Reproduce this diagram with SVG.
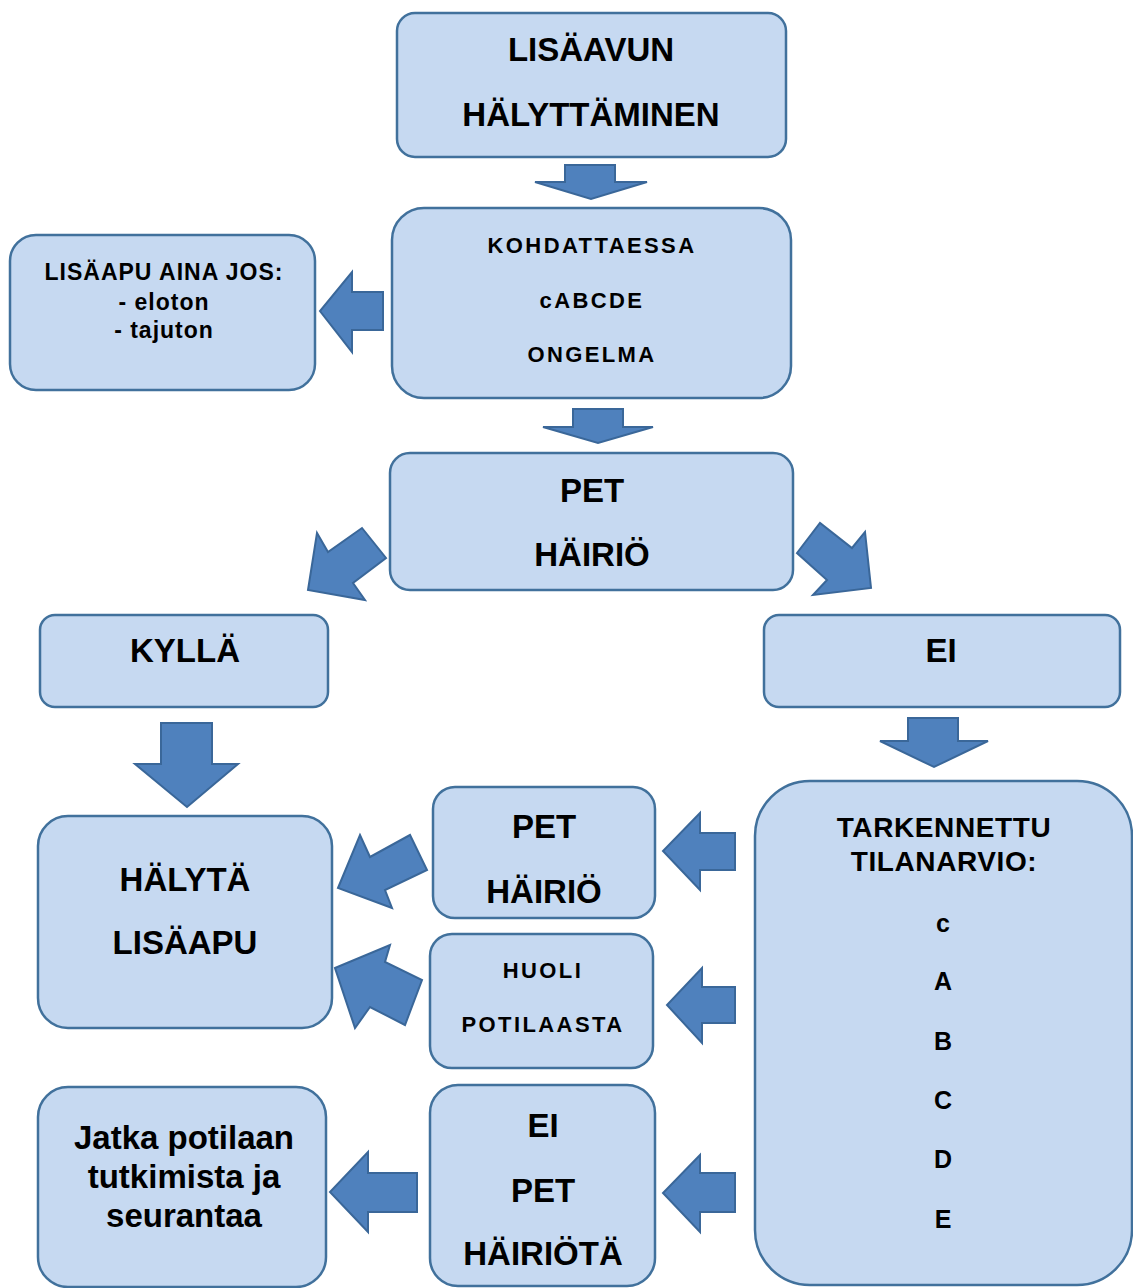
<svg xmlns="http://www.w3.org/2000/svg" width="1133" height="1288" viewBox="0 0 1133 1288">
<style>
.box{fill:#c6d9f1;stroke:#41719c;stroke-width:2.5}
.arr{fill:#4f81bd;stroke:#3a6799;stroke-width:2;stroke-linejoin:miter}
text{font-family:"Liberation Sans",Arial,sans-serif;font-weight:bold;fill:#000;text-anchor:middle}
.big{font-size:33px}
.mid{font-size:22px;letter-spacing:2.4px}
.sm{font-size:23px;letter-spacing:1px}
.tk{font-size:28px;letter-spacing:0.6px}
.lt{font-size:25px}
.jt{font-size:33px}
</style>
<rect width="1133" height="1288" fill="#ffffff"/>
<g id="connectors">
<polygon class="arr" points="565,165 615,165 615,182 647,182 591,199 535,182 565,182"/>
<polygon class="arr" points="383,292 383,330 352,330 352,352 320,311 352,272 352,292"/>
<polygon class="arr" points="573,409 623,409 623,427 653,427 598,443 543,427 573,427"/>
<polygon class="arr" points="362,528 386,558 353,583 365,600 308,590 317,533 328,552"/>
<polygon class="arr" points="797,553 820,523 852,548 865,532 871,588 813,595 827,580"/>
<polygon class="arr" points="161,723 212,723 212,764 238,764 187,807 135,764 161,764"/>
<polygon class="arr" points="908,718 958,718 958,741 988,741 934,767 880,741 908,741"/>
<polygon class="arr" points="735,833 735,870 700,870 700,890 663,851 700,813 700,833"/>
<polygon class="arr" points="735,987 735,1023 702,1023 702,1043 667,1005 702,968 702,987"/>
<polygon class="arr" points="735,1173 735,1212 700,1212 700,1232 663,1193 700,1155 700,1173"/>
<polygon class="arr" points="417,1173 417,1212 368,1212 368,1232 330,1192 368,1152 368,1173"/>
<polygon class="arr" points="338,888 360,835 370,857 410,835 427,870 385,890 392,908"/>
<polygon class="arr" points="335,968 390,945 385,962 422,980 405,1025 370,1007 355,1028"/>
</g>
<g id="n_lisaavun">
<rect class="box" x="397" y="13" width="389" height="144" rx="18"/>
<text class="big" x="591" y="61">LISÄAVUN</text>
<text class="big" x="591" y="126">HÄLYTTÄMINEN</text>
</g>
<g id="n_kohdattaessa">
<rect class="box" x="392" y="208" width="399" height="190" rx="32"/>
<text class="mid" x="592" y="253">KOHDATTAESSA</text>
<text class="mid" x="592" y="308">cABCDE</text>
<text class="mid" x="592" y="362">ONGELMA</text>
</g>
<g id="n_lisaapu_aina">
<rect class="box" x="10" y="235" width="305" height="155" rx="26"/>
<text class="sm" x="164" y="280">LISÄAPU AINA JOS:</text>
<text class="sm" x="164" y="310">- eloton</text>
<text class="sm" x="164" y="338">- tajuton</text>
</g>
<g id="n_pet">
<rect class="box" x="390" y="453" width="403" height="137" rx="20"/>
<text class="big" x="592" y="502">PET</text>
<text class="big" x="592" y="566">HÄIRIÖ</text>
</g>
<g id="n_kylla">
<rect class="box" x="40" y="615" width="288" height="92" rx="15"/>
<text class="big" x="185" y="662">KYLLÄ</text>
</g>
<g id="n_ei">
<rect class="box" x="764" y="615" width="356" height="92" rx="15"/>
<text class="big" x="941" y="662">EI</text>
</g>
<g id="n_halyta">
<rect class="box" x="38" y="816" width="294" height="212" rx="30"/>
<text class="big" x="185" y="891">HÄLYTÄ</text>
<text class="big" x="185" y="954">LISÄAPU</text>
</g>
<g id="n_pet2">
<rect class="box" x="433" y="787" width="222" height="131" rx="22"/>
<text class="big" x="544" y="838">PET</text>
<text class="big" x="544" y="903">HÄIRIÖ</text>
</g>
<g id="n_huoli">
<rect class="box" x="430" y="934" width="223" height="134" rx="22"/>
<text class="mid" x="543" y="978">HUOLI</text>
<text class="mid" x="543" y="1032">POTILAASTA</text>
</g>
<g id="n_eipet">
<rect class="box" x="430" y="1085" width="225" height="201" rx="28"/>
<text class="big" x="543" y="1137">EI</text>
<text class="big" x="543" y="1202">PET</text>
<text class="big" x="543" y="1265">HÄIRIÖTÄ</text>
</g>
<g id="n_jatka">
<rect class="box" x="38" y="1087" width="288" height="200" rx="30"/>
<text class="jt" x="184" y="1149">Jatka potilaan</text>
<text class="jt" x="184" y="1188">tutkimista ja</text>
<text class="jt" x="184" y="1227">seurantaa</text>
</g>
<g id="n_tarkennettu">
<rect class="box" x="755" y="781" width="377" height="504" rx="55"/>
<text class="tk" x="944" y="837">TARKENNETTU</text>
<text class="tk" x="944" y="871">TILANARVIO:</text>
<text class="lt" x="943" y="932">c</text>
<text class="lt" x="943" y="990">A</text>
<text class="lt" x="943" y="1050">B</text>
<text class="lt" x="943" y="1109">C</text>
<text class="lt" x="943" y="1168">D</text>
<text class="lt" x="943" y="1228">E</text>
</g>
</svg>
